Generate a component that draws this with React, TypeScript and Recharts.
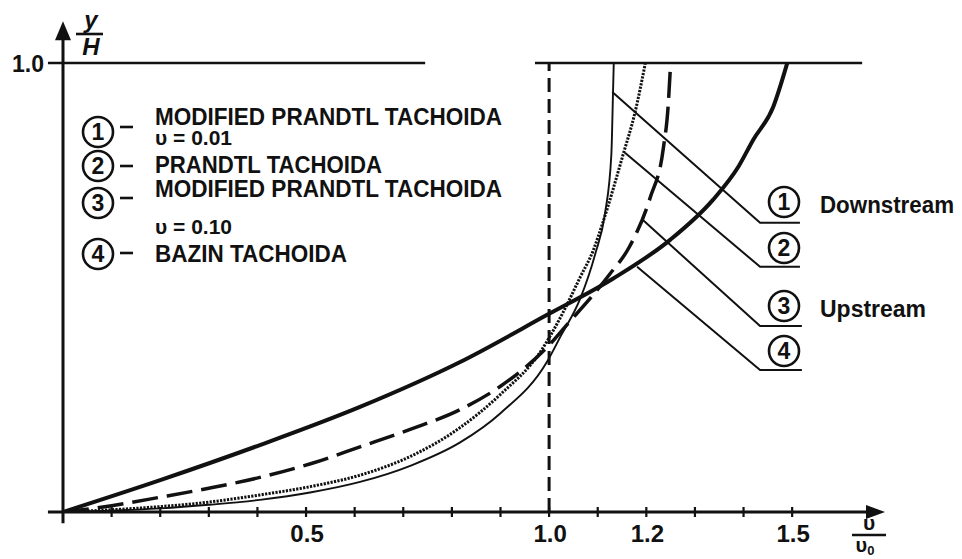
import {
  ComposedChart,
  Line,
  ReferenceDot,
  ReferenceLine,
  XAxis,
  YAxis,
} from "recharts";

const INK = "#111111";
const FONT = '"Liberation Sans", Arial, Helvetica, sans-serif';

const W = 962;
const H = 559;

// velocity profiles, x = υ/υ0, y = y/H
const modPrandtl001 = [
  { x: 0, y: 0 },
  { x: 0.1, y: 0.003 },
  { x: 0.2, y: 0.008 },
  { x: 0.3, y: 0.016 },
  { x: 0.405, y: 0.027 },
  { x: 0.511, y: 0.044 },
  { x: 0.611, y: 0.067 },
  { x: 0.717, y: 0.104 },
  { x: 0.817, y: 0.155 },
  { x: 0.9, y: 0.22 },
  { x: 0.996, y: 0.335 },
  { x: 1.023, y: 0.39 },
  { x: 1.064, y: 0.475 },
  { x: 1.095, y: 0.575 },
  { x: 1.115, y: 0.665 },
  { x: 1.128, y: 0.795 },
  { x: 1.1315, y: 0.935 },
  { x: 1.133, y: 1.0 },
];

const prandtl = [
  { x: 0, y: 0 },
  { x: 0.1, y: 0.005 },
  { x: 0.2, y: 0.012 },
  { x: 0.3, y: 0.022 },
  { x: 0.405, y: 0.038 },
  { x: 0.511, y: 0.057 },
  { x: 0.611, y: 0.082 },
  { x: 0.717, y: 0.125 },
  { x: 0.817, y: 0.188 },
  { x: 0.9, y: 0.262 },
  { x: 0.981, y: 0.355 },
  { x: 1.029, y: 0.445 },
  { x: 1.064, y: 0.523 },
  { x: 1.091, y: 0.583 },
  { x: 1.111, y: 0.646 },
  { x: 1.152, y: 0.795 },
  { x: 1.177, y: 0.891 },
  { x: 1.198, y: 1.0 },
];

const modPrandtl010 = [
  { x: 0, y: 0 },
  { x: 0.1, y: 0.014 },
  { x: 0.2, y: 0.033 },
  { x: 0.3, y: 0.053 },
  { x: 0.405, y: 0.077 },
  { x: 0.511, y: 0.108 },
  { x: 0.611, y: 0.145 },
  { x: 0.717, y: 0.185 },
  { x: 0.817, y: 0.228 },
  { x: 0.9, y: 0.28 },
  { x: 0.996, y: 0.367 },
  { x: 1.043, y: 0.425 },
  { x: 1.084, y: 0.475 },
  { x: 1.125, y: 0.53 },
  { x: 1.165, y: 0.59 },
  { x: 1.208, y: 0.7 },
  { x: 1.235, y: 0.81 },
  { x: 1.245, y: 0.906 },
  { x: 1.249, y: 0.98 },
];

const bazin = [
  { x: 0, y: 0 },
  { x: 0.2, y: 0.071 },
  { x: 0.405, y: 0.149 },
  { x: 0.611, y: 0.234 },
  { x: 0.817, y: 0.334 },
  { x: 0.996, y: 0.439 },
  { x: 1.132, y: 0.52 },
  { x: 1.249, y: 0.606 },
  { x: 1.337, y: 0.695 },
  { x: 1.39, y: 0.77 },
  { x: 1.42, y: 0.829 },
  { x: 1.461, y: 0.902 },
  { x: 1.49, y: 1.0 },
];

// pointer lines from each curve to its circled number
const leader1 = [
  { x: 1.13, y: 0.935 },
  { x: 1.434, y: 0.644 },
  { x: 1.516, y: 0.644 },
];
const leader2 = [
  { x: 1.156, y: 0.8 },
  { x: 1.434, y: 0.546 },
  { x: 1.516, y: 0.546 },
];
const leader3 = [
  { x: 1.193, y: 0.65 },
  { x: 1.434, y: 0.414 },
  { x: 1.52, y: 0.414 },
];
const leader4 = [
  { x: 1.181, y: 0.546 },
  { x: 1.434, y: 0.316 },
  { x: 1.52, y: 0.316 },
];

const X_TICKS = [0.1, 0.2, 0.3, 0.4, 0.5, 0.6, 0.7, 0.8, 0.9, 1.0, 1.1, 1.2, 1.3, 1.4, 1.5];
const X_LABELS: Record<string, string> = { "0.5": "0.5", "1": "1.0", "1.2": "1.2", "1.5": "1.5" };

const LEGEND = [
  { n: "1", cy: 132, dashY: 127, lines: [{ t: "MODIFIED PRANDTL TACHOIDA", y: 125, w: 347, fs: 23 }, { t: "υ = 0.01", y: 145, w: 77, fs: 20 }] },
  { n: "2", cy: 166, dashY: 166, lines: [{ t: "PRANDTL TACHOIDA", y: 173, w: 227, fs: 23 }] },
  { n: "3", cy: 203, dashY: 198, lines: [{ t: "MODIFIED PRANDTL TACHOIDA", y: 197, w: 347, fs: 23 }, { t: "υ = 0.10", y: 234, w: 77, fs: 21 }] },
  { n: "4", cy: 254, dashY: 253, lines: [{ t: "BAZIN TACHOIDA", y: 262, w: 192, fs: 23 }] },
];

const RIGHT_MARKS = [
  { n: "1", cy: 202, text: "Downstream", w: 134 },
  { n: "2", cy: 248 },
  { n: "3", cy: 306, text: "Upstream", w: 106 },
  { n: "4", cy: 351 },
];

function XTick({ x, y, payload }: any) {
  const label = X_LABELS[String(payload.value)];
  return (
    <g>
      <line x1={x} x2={x} y1={y - 5} y2={y + 5} stroke={INK} strokeWidth={2.2} />
      {label && (
        <text x={x + 1} y={y + 30} textAnchor="middle" fontFamily={FONT} fontWeight={700} fontSize={24} fill={INK}>
          {label}
        </text>
      )}
    </g>
  );
}

function Circled({ cx, cy, n }: { cx: number; cy: number; n: string }) {
  return (
    <g>
      <circle cx={cx} cy={cy} r={15} fill="#fff" stroke={INK} strokeWidth={2.6} />
      <text x={cx} y={cy + 8} textAnchor="middle" fontFamily={FONT} fontWeight={700} fontSize={23} fill={INK}>
        {n}
      </text>
    </g>
  );
}

const arrowRight = ({ cx, cy }: any) => (
  <polygon points={`${cx},${cy} ${cx - 19},${cy - 7} ${cx - 19},${cy + 7}`} fill={INK} />
);
const arrowUp = ({ cx, cy }: any) => (
  <polygon points={`${cx},${cy} ${cx - 8},${cy + 19} ${cx + 8},${cy + 19}`} fill={INK} />
);

function Annotations() {
  const txt = { fontFamily: FONT, fontWeight: 700, fill: INK } as const;
  return (
    <svg width={W} height={H} style={{ position: "absolute", left: 0, top: 0, pointerEvents: "none" }}>
      {/* y/H */}
      <text x={91} y={28} textAnchor="middle" fontSize={24} fontStyle="italic" {...txt}>y</text>
      <line x1={76} x2={103} y1={34} y2={34} stroke={INK} strokeWidth={2.6} />
      <text x={91} y={55} textAnchor="middle" fontSize={24} fontStyle="italic" {...txt}>H</text>
      <text x={44} y={72} textAnchor="end" fontSize={23} {...txt}>1.0</text>

      {/* υ/υ0 */}
      <text x={869} y={530} textAnchor="middle" fontSize={21} {...txt}>υ</text>
      <line x1={852} x2={886} y1={535} y2={535} stroke={INK} strokeWidth={2.4} />
      <text x={865} y={552} textAnchor="middle" fontSize={20} {...txt}>
        υ<tspan fontSize={13} dy={3}>0</tspan>
      </text>

      {LEGEND.map((e) => (
        <g key={e.n}>
          <Circled cx={98} cy={e.cy} n={e.n} />
          <line x1={120} x2={133} y1={e.dashY} y2={e.dashY} stroke={INK} strokeWidth={2.6} />
          {e.lines.map((l) => (
            <text
              key={l.t + l.y}
              x={155}
              y={l.y}
              fontSize={l.fs}
              textLength={l.w}
              lengthAdjust="spacingAndGlyphs"
              {...txt}
            >
              {l.t}
            </text>
          ))}
        </g>
      ))}

      {RIGHT_MARKS.map((m) => (
        <g key={m.n}>
          <Circled cx={784} cy={m.cy} n={m.n} />
          {m.text && (
            <text
              x={820}
              y={m.cy + 11}
              fontSize={23}
              textLength={m.w}
              lengthAdjust="spacingAndGlyphs"
              {...txt}
              fontWeight={600}
            >
              {m.text}
            </text>
          )}
        </g>
      ))}
    </svg>
  );
}

const curve = (stroke: number, dash?: string) => ({
  type: "monotone" as const,
  dataKey: "y",
  stroke: INK,
  strokeWidth: stroke,
  strokeDasharray: dash,
  dot: false,
  activeDot: false,
  isAnimationActive: false,
});

export default function App() {
  return (
    <div style={{ position: "absolute", left: 0, top: 0, width: W, height: H, background: "#fff" }}>
      <ComposedChart width={W} height={H} margin={{ top: 18, right: 77, left: 63, bottom: 17 }}>
        <XAxis
          dataKey="x"
          type="number"
          domain={[0, 1.691]}
          allowDataOverflow
          ticks={X_TICKS}
          interval={0}
          axisLine={false}
          tickLine={false}
          tickSize={0}
          tickMargin={0}
          height={30}
          tick={<XTick />}
        />
        <YAxis type="number" domain={[0, 1.1]} allowDataOverflow hide />

        {/* axes with arrowheads */}
        <ReferenceLine segment={[{ x: -0.031, y: 0 }, { x: 1.66, y: 0 }]} stroke={INK} strokeWidth={3} ifOverflow="visible" />
        <ReferenceLine segment={[{ x: 0, y: -0.025 }, { x: 0, y: 1.06 }]} stroke={INK} strokeWidth={3} ifOverflow="visible" />
        <ReferenceDot x={1.691} y={0} ifOverflow="visible" shape={arrowRight} />
        <ReferenceDot x={0} y={1.093} ifOverflow="visible" shape={arrowUp} />

        {/* free surface y/H = 1 and mean velocity line */}
        <ReferenceLine segment={[{ x: -0.031, y: 1 }, { x: 0.745, y: 1 }]} stroke={INK} strokeWidth={2.5} ifOverflow="visible" />
        <ReferenceLine segment={[{ x: 0.971, y: 1 }, { x: 1.644, y: 1 }]} stroke={INK} strokeWidth={2.5} ifOverflow="visible" />
        <ReferenceLine segment={[{ x: 1, y: 0 }, { x: 1, y: 1 }]} stroke={INK} strokeWidth={3} strokeDasharray="14 7" ifOverflow="visible" />

        <Line data={modPrandtl001} {...curve(1.9)} />
        <Line data={prandtl} {...curve(3, "2.2 1.3")} />
        <Line data={modPrandtl010} {...curve(3.5, "26 9")} />
        <Line data={bazin} {...curve(4)} />

        {[leader1, leader2, leader3, leader4].map((d, i) => (
          <Line key={i} data={d} type="linear" dataKey="y" stroke={INK} strokeWidth={2} dot={false} activeDot={false} isAnimationActive={false} />
        ))}
      </ComposedChart>
      <Annotations />
    </div>
  );
}
